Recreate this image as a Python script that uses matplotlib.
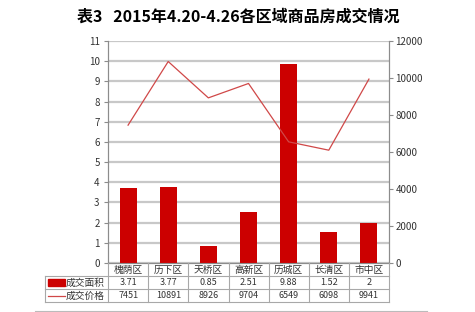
import numpy as np
import matplotlib.pyplot as plt
from matplotlib.lines import Line2D
from matplotlib.patches import Rectangle

plt.rcParams['font.family'] = ['Noto Sans CJK SC', 'DejaVu Sans']

districts = ['槐荫区', '历下区', '天桥区', '高新区', '历城区', '长清区', '市中区']
area = [3.71, 3.77, 0.85, 2.51, 9.88, 1.52, 2]
price = [7451, 10891, 8926, 9704, 6549, 6098, 9941]
area_labels = ['3.71', '3.77', '0.85', '2.51', '9.88', '1.52', '2']
title = '表3   2015年4.20-4.26各区域商品房成交情况'

W, H = 475, 312
fig = plt.figure(figsize=(W / 100, H / 100), dpi=100)

def box(x0, y0, x1, y1):
    return [x0 / W, 1 - y1 / H, (x1 - x0) / W, (y1 - y0) / H]

bar_c = '#cc0000'
line_c = '#d04848'
grid_c = '#c8c8c8'
spine_c = '#8c8c8c'

ax = fig.add_axes(box(108, 41, 389, 263))
x = np.arange(len(districts)) + 0.5
ax.bar(x, area, width=0.42, color=bar_c, zorder=3)
ax.set_xlim(0, 7)
ax.set_ylim(0, 11)
ax.set_yticks(range(0, 12))
ax.set_xticks([])
ax.yaxis.grid(True, color=grid_c, linewidth=1.6, zorder=0)
ax.tick_params(axis='y', labelsize=7, length=3, color=spine_c, pad=3, labelcolor='#333333')
for s in ax.spines.values():
    s.set_color(spine_c)
    s.set_linewidth(0.8)
ax.spines['top'].set_visible(False)

ax2 = ax.twinx()
ax2.plot(x, price, color=line_c, linewidth=0.9, zorder=4)
ax2.set_ylim(0, 12000)
ax2.set_yticks(range(0, 12001, 2000))
ax2.tick_params(axis='y', labelsize=7, length=3, color=spine_c, pad=1.5, labelcolor='#333333')
for s in ax2.spines.values():
    s.set_color(spine_c)
    s.set_linewidth(0.8)
ax2.spines['top'].set_visible(False)

fig.text(238 / W, 1 - 17 / H, title, ha='center', va='center',
         fontsize=11.5, fontweight='bold')

# data table under the chart
tx = fig.add_axes(box(45, 263, 389, 302))
lab_w = 63 / 40
tx.set_xlim(-lab_w, 7)
tx.set_ylim(3, 0)
tx.axis('off')
lc = '#a8a8a8'
for i in range(8):
    tx.plot([i, i], [0, 3], color=lc, lw=0.8, clip_on=False)
tx.plot([-lab_w, -lab_w], [1, 3], color=lc, lw=0.8, clip_on=False)
for yy in (1, 2, 3):
    tx.plot([-lab_w, 7], [yy, yy], color=lc, lw=0.8, clip_on=False)
for i, d in enumerate(districts):
    tx.text(i + 0.5, 0.5, d, ha='center', va='center', fontsize=7, color='#333333')
    tx.text(i + 0.5, 1.5, area_labels[i], ha='center', va='center', fontsize=6.5, color='#333333')
    tx.text(i + 0.5, 2.5, str(price[i]), ha='center', va='center', fontsize=6.5, color='#333333')
tx.add_patch(Rectangle((-lab_w + 0.08, 1.25), 0.42, 0.5, color=bar_c, clip_on=False))
tx.plot([-lab_w + 0.08, -lab_w + 0.5], [2.5, 2.5], color=line_c, lw=0.9, clip_on=False)
tx.text(-lab_w + 0.52, 1.5, '成交面积', ha='left', va='center', fontsize=7, color='#333333')
tx.text(-lab_w + 0.52, 2.5, '成交价格', ha='left', va='center', fontsize=7, color='#333333')

fig.add_artist(Line2D([35 / W, 427 / W], [0.8 / H, 0.8 / H], color='#bbbbbb', lw=0.8))

fig.savefig('out.png', dpi=100)
